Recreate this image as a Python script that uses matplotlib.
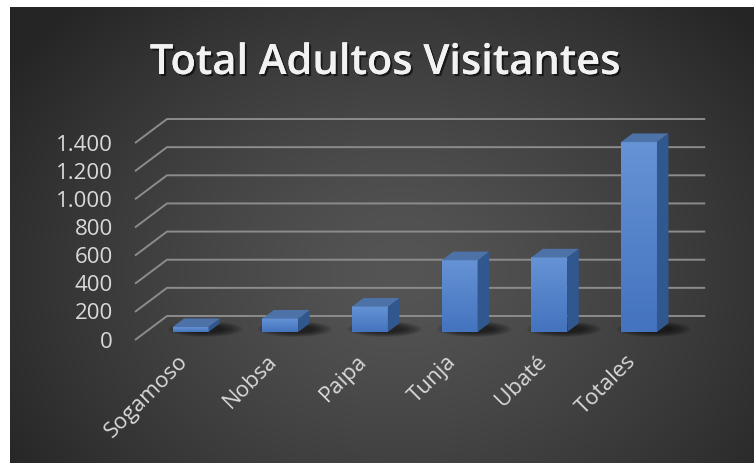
import numpy as np
import matplotlib.pyplot as plt
from matplotlib.patches import Polygon, Ellipse
import matplotlib.patheffects as pe

categories = ['Sogamoso', 'Nobsa', 'Paipa', 'Tunja', 'Ubaté', 'Totales']
values = [35, 95, 180, 510, 530, 1350]
y_ticks = [0, 200, 400, 600, 800, 1000, 1200, 1400]
y_tick_labels = ['0', '200', '400', '600', '800', '1.000', '1.200', '1.400']
title = 'Total Adultos Visitantes'

W, H = 754, 463
PX = 89.7      # pixels per category
PY = 0.1407    # pixels per unit
X0, Y0 = 135, 340   # pixel of (cat -0.5, value 0) on the front plane
DX = 32 / PX        # depth shear in category units
DY = 24 / PY        # depth shear in value units

plt.rcParams['font.family'] = ['Open Sans', 'DejaVu Sans']

fig = plt.figure(figsize=(W / 100, H / 100), dpi=100)
fig.patch.set_facecolor('white')

# dark radial background
bg = fig.add_axes([10 / W, 0, 1 - 10 / W, (H - 7) / H])
bg.axis('off')
gy, gx = np.mgrid[0:H - 7, 0:W - 10]
r = np.hypot(gx - 390, (gy - 265) * 1.25) / 470
r = np.clip(r, 0, 1)[..., None]
c0 = np.array([0x55, 0x55, 0x55]) / 255
c1 = np.array([0x25, 0x25, 0x25]) / 255
bg.imshow(c0 + (c1 - c0) * r ** 1.3, aspect='auto', interpolation='bilinear')

ax = fig.add_axes([0, 0, 1, 1])
ax.patch.set_alpha(0)
ax.axis('off')
xlim = (-0.5 - X0 / PX, -0.5 + (W - X0) / PX)
ylim = (-(H - Y0) / PY, Y0 / PY)


def proj(c, v, d):
    return c + d * DX, v + d * DY


# gridlines: back wall + side wall diagonals
for t, lbl in zip(y_ticks, y_tick_labels):
    xa, ya = proj(-0.5, t, 0)
    xb, yb = proj(-0.5, t, 1)
    xc, yc = proj(len(categories) - 0.5, t, 1)
    ax.plot([xa, xb, xc], [ya, yb, yc], color='#8c8c8c', lw=1.4, zorder=1,
            solid_capstyle='butt')
    ax.annotate(lbl, xy=(xa, ya), xytext=(-22 * 0.72, -7.5 * 0.72),
                textcoords='offset points', ha='right', va='baseline',
                fontsize=16, color='#d9d9d9')

d0, d1 = 1 / 3, 1 / 3 + 0.36
hw = 0.2
grad = np.linspace(0, 1, 100)[:, None, None]
top_c = np.array([0x66, 0x93, 0xd5]) / 255
bot_c = np.array([0x44, 0x73, 0xbf]) / 255
front_img = top_c + (bot_c - top_c) * grad

for i, v in enumerate(values):
    x0, x1 = i - hw, i + hw
    # soft shadow on the floor
    sx, sy = proj(i + 0.12, 0, d0 + 0.12)
    for k in range(6):
        ax.add_patch(Ellipse((sx, sy), 0.82 - k * 0.08, 110 - k * 12,
                             color='black', alpha=0.12, lw=0, zorder=2))
    # front face with vertical gradient
    fx0, fy0 = proj(x0, 0, d0)
    fx1, fy1 = proj(x1, v, d0)
    ax.imshow(front_img, extent=(fx0, fx1, fy0, fy1), aspect='auto', zorder=3,
              interpolation='bilinear')
    # side face
    side = [proj(x1, 0, d0), proj(x1, 0, d1), proj(x1, v, d1), proj(x1, v, d0)]
    ax.add_patch(Polygon(side, closed=True, fc='#31578f', ec='none', zorder=3))
    # top face
    top = [proj(x0, v, d0), proj(x1, v, d0), proj(x1, v, d1), proj(x0, v, d1)]
    ax.add_patch(Polygon(top, closed=True, fc='#4d72a8', ec='none', zorder=3))
    # category label
    lx, ly = proj(i, 0, 0)
    ax.annotate(categories[i], xy=(lx, ly), xytext=(-3 * 0.72, -11 * 0.72),
                textcoords='offset points', ha='right', va='top', rotation=45,
                rotation_mode='anchor', fontsize=16, color='#d9d9d9')

ax.set_xlim(xlim)
ax.set_ylim(ylim)

fig.text(385 / W, 1 - 74 / H, title, ha='center', va='baseline', fontsize=30,
         weight='semibold', color='#f2f2f2',
         path_effects=[pe.withSimplePatchShadow(offset=(1.5, -1.5), shadow_rgbFace='black', alpha=0.6),
                       pe.Normal()])

fig.savefig('out.png', dpi=100)
